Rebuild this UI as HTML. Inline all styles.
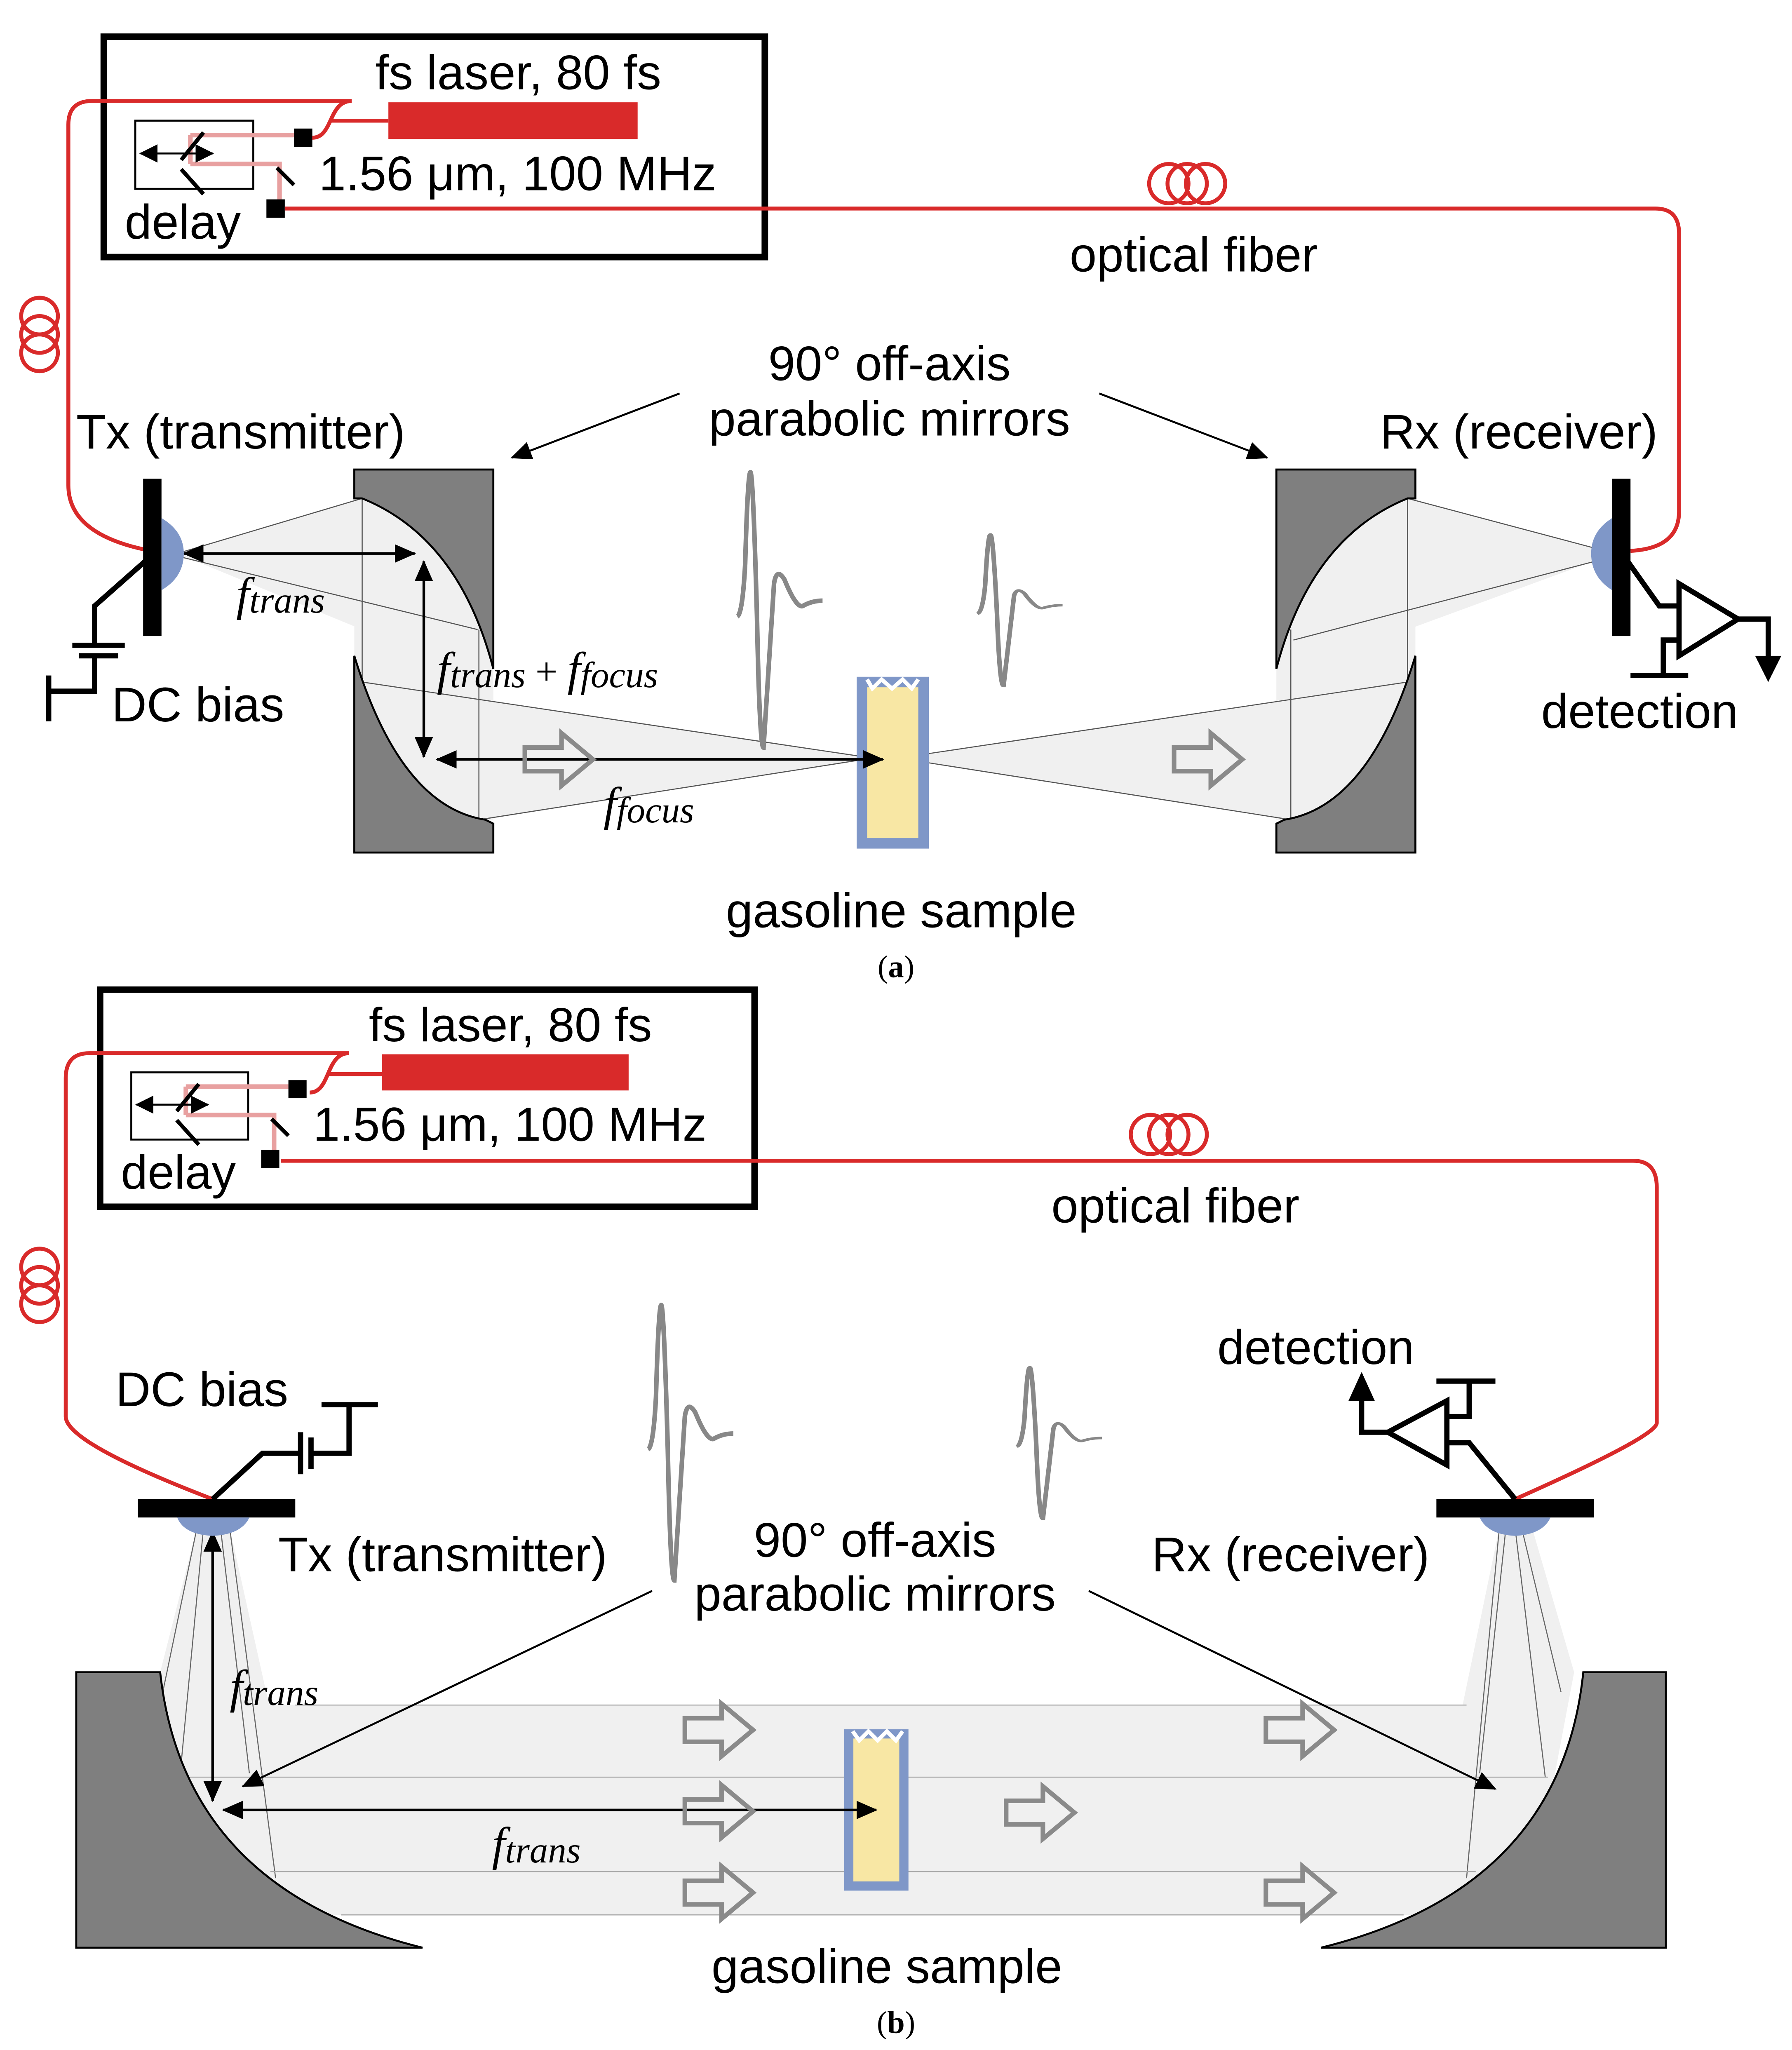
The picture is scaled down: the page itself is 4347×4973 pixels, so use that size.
<!DOCTYPE html>
<html><head><meta charset="utf-8"><style>
html,body{margin:0;padding:0;background:#fff}
svg{display:block}
text{font-family:"Liberation Sans",sans-serif;fill:#000}
.it{font-family:"Liberation Serif",serif;font-style:italic}
</style></head><body>
<svg width="4347" height="4973" viewBox="0 0 1366 1563" xmlns="http://www.w3.org/2000/svg">
<defs>
<marker id="ah" markerWidth="14" markerHeight="14" refX="13" refY="7" orient="auto-start-reverse" markerUnits="userSpaceOnUse"><path d="M0,0 L14,7 L0,14 Z" fill="#000"/></marker>
<marker id="ah2" markerWidth="16" markerHeight="14" refX="15" refY="7" orient="auto-start-reverse" markerUnits="userSpaceOnUse"><path d="M0,0 L16,7 L0,14 Z" fill="#000"/></marker>
<g id="hol"><path d="M0,-9 L28,-9 L28,-20 L52,0 L28,20 L28,9 L0,9 Z" fill="none" stroke="#8a8a8a" stroke-width="3.5"/></g>
<g id="box">
<rect x="79" y="28" width="504" height="168" fill="none" stroke="#000" stroke-width="5"/>
<text x="395" y="68" font-size="37" text-anchor="middle">fs laser, 80 fs</text>
<rect x="296" y="78" width="190" height="28" fill="#d92a2a"/>
<rect x="103" y="92" width="90" height="52" fill="none" stroke="#000" stroke-width="1.5"/>
<path d="M145,103 L224,103 M145,125 L213,125 L213,153 M145,103 L145,125" stroke="#e8a0a0" stroke-width="3.5" fill="none"/>
<path d="M138,122 L155,101 M138,129 L155,148 M211,128 L224,141" stroke="#000" stroke-width="3"/>
<line x1="107" y1="117" x2="162" y2="117" stroke="#000" stroke-width="1.5" marker-start="url(#ah)" marker-end="url(#ah)"/>
<rect x="224" y="98" width="14" height="14" fill="#000"/>
<rect x="203" y="152" width="14" height="14" fill="#000"/>
<text x="243" y="145" font-size="37">1.56 μm, 100 MHz</text>
<text x="95" y="182" font-size="37">delay</text>
</g>
<g id="pulse"><path d="M0,0 Q4,-2 6,-40 Q8,-110 10,-110 Q12,-110 15,0 Q17,100 20,100 Q24,40 28,-25 Q30,-38 36,-28 Q45,-6 50,-8 Q57,-12 65,-12" fill="none" stroke="#888" stroke-width="3.5"/></g>
</defs>

<!-- ===== PANEL A ===== -->
<use href="#box"/>
<path d="M238,105 C254,105 250,77 268,77 L70,77 Q52,77 52,95 L52,370 Q52,408 115,420" fill="none" stroke="#d92a2a" stroke-width="3"/>
<path d="M252,92 Q256,92 296,92" fill="none" stroke="#d92a2a" stroke-width="3"/>
<path d="M217,159 L1262,159 Q1280,159 1280,178 L1280,390 Q1280,418 1243,420" fill="none" stroke="#d92a2a" stroke-width="3"/>
<g fill="none" stroke="#d92a2a" stroke-width="3">
<circle cx="30" cy="241" r="14"/><circle cx="30" cy="255" r="14"/><circle cx="30" cy="269" r="14"/>
<circle cx="891" cy="140" r="15"/><circle cx="905" cy="140" r="15"/><circle cx="919" cy="140" r="15"/>
</g>
<text x="910" y="207" font-size="37" text-anchor="middle">optical fiber</text>
<text x="678" y="290" font-size="37" text-anchor="middle">90° off-axis</text>
<text x="678" y="332" font-size="37" text-anchor="middle">parabolic mirrors</text>
<line x1="518" y1="300" x2="390" y2="349" stroke="#000" stroke-width="1.5" marker-end="url(#ah2)"/>
<line x1="838" y1="300" x2="966" y2="349" stroke="#000" stroke-width="1.5" marker-end="url(#ah2)"/>
<text x="58" y="342" font-size="37">Tx (transmitter)</text>
<text x="1052" y="342" font-size="37">Rx (receiver)</text>

<g fill="#f0f0f0" stroke="#555" stroke-width="0.8">
<path d="M135,422 L276,380 Q345,400 376,505 L276,480 Z" stroke="none"/>
<path d="M270,380 L376,380 L376,625 L270,625 Z" stroke="none"/>
<path d="M276,520 L665,578 L365,625 Z" stroke="none"/>
<path d="M1231,422 L1073,380 Q1004,400 973,505 L1073,480 Z" stroke="none"/>
<path d="M1079,380 L973,380 L973,625 L1079,625 Z" stroke="none"/>
<path d="M1073,520 L685,578 L984,625 Z" stroke="none"/>
<path d="M135,422 L276,380 M135,424 L364,480 M276,380 L276,520 M365,480 L365,625 M276,520 L665,578 M365,625 L665,578" fill="none"/>
<path d="M1231,422 L1073,380 M1231,424 L986,488 M1073,380 L1073,520 M984,480 L984,625 M1073,520 L685,578 M984,625 L685,578" fill="none"/>
</g>
<g fill="#7f7f7f" stroke="#000" stroke-width="1.5">
<path d="M270,358 L376,358 L376,510 Q350,410 276,380 L270,380 Z"/>
<path d="M270,500 Q305,615 370,625 L376,628 L376,650 L270,650 Z"/>
<path d="M1079,358 L973,358 L973,510 Q999,410 1073,380 L1079,380 Z"/>
<path d="M1079,500 Q1044,615 979,625 L973,628 L973,650 L1079,650 Z"/>
</g>
<rect x="657" y="520" width="47" height="123" fill="#f8e7a4" stroke="#7f97c8" stroke-width="8"/>
<path d="M661,518 L665,525 L672,518 L680,525 L688,518 L695,525 L700,518" stroke="#fff" stroke-width="3" fill="none"/>
<line x1="140" y1="422" x2="316" y2="422" stroke="#000" stroke-width="2" marker-start="url(#ah2)" marker-end="url(#ah2)"/>
<line x1="323" y1="428" x2="323" y2="577" stroke="#000" stroke-width="2" marker-start="url(#ah2)" marker-end="url(#ah2)"/>
<line x1="333" y1="579" x2="673" y2="579" stroke="#000" stroke-width="2" marker-start="url(#ah2)" marker-end="url(#ah2)"/>
<use href="#hol" x="400" y="579"/>
<use href="#hol" x="895" y="579"/>
<use href="#pulse" x="562" y="470"/>
<use href="#pulse" x="745" y="468" transform="translate(745,468) scale(1,0.55) translate(-745,-468)"/>
<text class="it" x="180" y="465" font-size="36">f<tspan font-size="28" dy="2">trans</tspan></text>
<text class="it" x="333" y="522" font-size="36">f<tspan font-size="28" dy="2">trans</tspan><tspan dy="-2" font-style="normal" font-size="30"> + </tspan>f<tspan font-size="28" dy="2">focus</tspan></text>
<text class="it" x="460" y="625" font-size="36">f<tspan font-size="28" dy="2">focus</tspan></text>
<rect x="109" y="365" width="14" height="120" fill="#000"/>
<path d="M123,395 Q140,405 140,422 Q140,440 123,450 Z" fill="#7f97c8"/>
<path d="M115,424 L72,462 L72,492 M55,492 L95,492 M60,500 L90,500 M72,500 L72,527 L37,527 M37,515 L37,550" stroke="#000" stroke-width="4" fill="none"/>
<text x="85" y="550" font-size="37">DC bias</text>
<rect x="1229" y="365" width="14" height="120" fill="#000"/>
<path d="M1229,395 Q1213,405 1213,422 Q1213,440 1229,450 Z" fill="#7f97c8"/>
<path d="M1238,424 L1265,462 L1280,462 M1280,445 L1280,500 L1325,472 Z M1325,472 L1348,472 L1348,505 M1280,488 L1268,488 L1268,515 M1243,515 L1287,515" stroke="#000" stroke-width="4" fill="none"/>
<path d="M1338,500 L1358,500 L1348,520 Z" fill="#000"/>
<text x="1250" y="555" font-size="37" text-anchor="middle">detection</text>
<text x="687" y="707" font-size="37" text-anchor="middle">gasoline sample</text>
<text x="683" y="745" font-size="24" text-anchor="middle" style="font-family:'Liberation Serif',serif">(<tspan font-weight="bold">a</tspan>)</text>

<!-- ===== PANEL B ===== -->
<g transform="translate(-2,727) scale(0.99,0.985)"><use href="#box"/></g>
<path d="M236,833 C252,833 248,803 266,803 L68,803 Q50,803 50,822 L50,1080 Q50,1100 162,1143" fill="none" stroke="#d92a2a" stroke-width="3"/>
<path d="M250,819 Q254,819 292,819" fill="none" stroke="#d92a2a" stroke-width="3"/>
<path d="M214,885 L1245,885 Q1263,885 1263,905 L1263,1085 Q1263,1095 1155,1143" fill="none" stroke="#d92a2a" stroke-width="3"/>
<g fill="none" stroke="#d92a2a" stroke-width="3">
<circle cx="30" cy="966" r="14"/><circle cx="30" cy="980" r="14"/><circle cx="30" cy="994" r="14"/>
<circle cx="877" cy="865" r="15"/><circle cx="891" cy="865" r="15"/><circle cx="905" cy="865" r="15"/>
</g>
<text x="896" y="932" font-size="37" text-anchor="middle">optical fiber</text>

<g fill="#f0f0f0" stroke="none">
<path d="M150,1165 L175,1165 L205,1300 L205,1460 L150,1460 L122,1275 Z"/>
<path d="M1143,1165 L1168,1165 L1200,1275 L1165,1460 L1115,1460 L1115,1300 Z"/>
<rect x="170" y="1300" width="960" height="160"/>
</g>
<g stroke="#666" stroke-width="0.8" fill="none">
<path d="M150,1165 L124,1290 M155,1165 L137,1355 M168,1165 L190,1352 M175,1165 L210,1432"/>
<path d="M1160,1165 L1190,1290 M1155,1165 L1178,1355 M1148,1165 L1128,1352 M1143,1165 L1118,1432"/>
<path d="M225,1300 L1118,1300 M137,1355 L1180,1355 M206,1427 L1125,1427 M260,1460 L1070,1460" stroke="#aaa"/>
</g>
<g fill="#7f7f7f" stroke="#000" stroke-width="1.5">
<path d="M58,1275 L122,1275 Q140,1440 322,1485 L58,1485 Z"/>
<path d="M1270,1275 L1207,1275 Q1190,1440 1007,1485 L1270,1485 Z"/>
</g>
<rect x="647" y="1322" width="42" height="116" fill="#f8e7a4" stroke="#7f97c8" stroke-width="7"/>
<path d="M650,1320 L655,1327 L662,1320 L669,1327 L676,1320 L683,1327 L688,1320" stroke="#fff" stroke-width="3" fill="none"/>
<line x1="162" y1="1168" x2="162" y2="1373" stroke="#000" stroke-width="2" marker-start="url(#ah2)" marker-end="url(#ah2)"/>
<line x1="170" y1="1380" x2="668" y2="1380" stroke="#000" stroke-width="2" marker-start="url(#ah2)" marker-end="url(#ah2)"/>
<line x1="497" y1="1213" x2="185" y2="1362" stroke="#000" stroke-width="1.5" marker-end="url(#ah2)"/>
<line x1="830" y1="1213" x2="1140" y2="1364" stroke="#000" stroke-width="1.5" marker-end="url(#ah2)"/>
<use href="#hol" x="522" y="1319"/>
<use href="#hol" x="522" y="1381"/>
<use href="#hol" x="522" y="1443"/>
<use href="#hol" x="767" y="1382"/>
<use href="#hol" x="965" y="1319"/>
<use href="#hol" x="965" y="1443"/>
<use href="#pulse" x="494" y="1105"/>
<g transform="translate(775,1103) scale(1,0.55) translate(-775,-1103)"><use href="#pulse" x="775" y="1103"/></g>
<text class="it" x="175" y="1298" font-size="36">f<tspan font-size="28" dy="2">trans</tspan></text>
<text class="it" x="375" y="1418" font-size="36">f<tspan font-size="28" dy="2">trans</tspan></text>
<text x="667" y="1187" font-size="37" text-anchor="middle">90° off-axis</text>
<text x="667" y="1228" font-size="37" text-anchor="middle">parabolic mirrors</text>
<rect x="105" y="1143" width="120" height="14" fill="#000"/>
<path d="M135,1157 Q140,1170 162,1171 Q184,1170 190,1157 Z" fill="#7f97c8"/>
<path d="M162,1143 L200,1108 L229,1108 M229,1092 L229,1124 M237,1096 L237,1120 M237,1108 L266,1108 L266,1071 M245,1071 L288,1071" stroke="#000" stroke-width="4" fill="none"/>
<text x="88" y="1072" font-size="37">DC bias</text>
<text x="212" y="1198" font-size="37">Tx (transmitter)</text>
<rect x="1095" y="1143" width="120" height="14" fill="#000"/>
<path d="M1128,1157 Q1134,1170 1155,1171 Q1176,1170 1182,1157 Z" fill="#7f97c8"/>
<path d="M1155,1143 L1120,1100 L1103,1100 M1103,1068 L1103,1117 L1058,1092 Z M1058,1092 L1038,1092 L1038,1066 M1103,1080 L1120,1080 L1120,1053 M1095,1053 L1140,1053" stroke="#000" stroke-width="4" fill="none"/>
<path d="M1028,1068 L1048,1068 L1038,1046 Z" fill="#000"/>
<text x="928" y="1040" font-size="37">detection</text>
<text x="878" y="1198" font-size="37">Rx (receiver)</text>
<text x="676" y="1512" font-size="37" text-anchor="middle">gasoline sample</text>
<text x="683" y="1550" font-size="24" text-anchor="middle" style="font-family:'Liberation Serif',serif">(<tspan font-weight="bold">b</tspan>)</text>
</svg>
</body></html>
